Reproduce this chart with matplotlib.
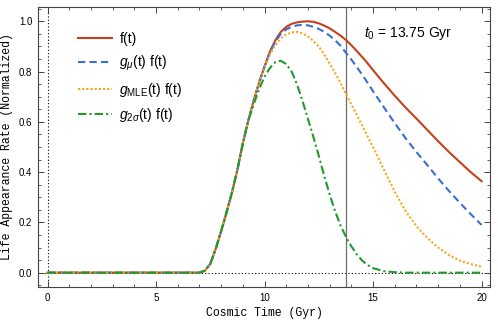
import numpy as np
import matplotlib
matplotlib.use("Agg")
import matplotlib.pyplot as plt
from matplotlib.ticker import MultipleLocator

plt.rcParams['font.family'] = ['Liberation Sans', 'DejaVu Sans']
plt.rcParams['mathtext.fontset'] = 'custom'
plt.rcParams['mathtext.rm'] = 'Liberation Sans'
plt.rcParams['mathtext.it'] = 'Liberation Sans:italic'

# cosmic time (Gyr)
t = [0, 7.0, 7.25, 7.5, 7.75, 8.0, 8.25, 8.5, 8.75, 9.0, 9.25, 9.5, 9.75,
     10.0, 10.25, 10.5, 10.75, 11.0, 11.25, 11.5, 11.75, 12.0, 12.25, 12.5,
     12.75, 13.0, 13.25, 13.5, 13.75, 14.0, 14.25, 14.5, 14.75, 15.0, 15.5,
     16.0, 16.5, 17.0, 17.5, 18.0, 18.5, 19.0, 19.5, 20.0]

f_t = [0, 0, 0.008, 0.035, 0.095, 0.165, 0.24, 0.32, 0.41, 0.515, 0.605,
       0.685, 0.757, 0.82, 0.88, 0.925, 0.958, 0.978, 0.99, 0.996, 0.999,
       1.0, 0.998, 0.992, 0.983, 0.972, 0.958, 0.943, 0.926, 0.905, 0.882,
       0.858, 0.833, 0.806, 0.754, 0.704, 0.657, 0.613, 0.568, 0.523, 0.48,
       0.44, 0.40, 0.364]

g_mu = [0, 0, 0.008, 0.035, 0.095, 0.165, 0.24, 0.32, 0.41, 0.515, 0.605,
        0.685, 0.757, 0.82, 0.878, 0.92, 0.95, 0.968, 0.978, 0.984, 0.986,
        0.984, 0.978, 0.97, 0.958, 0.943, 0.925, 0.903, 0.875, 0.848, 0.818,
        0.788, 0.755, 0.722, 0.658, 0.595, 0.535, 0.48, 0.428, 0.375, 0.325,
        0.278, 0.233, 0.19]

g_mle = [0, 0, 0.008, 0.035, 0.095, 0.165, 0.24, 0.32, 0.41, 0.515, 0.605,
         0.685, 0.757, 0.815, 0.87, 0.905, 0.932, 0.948, 0.956, 0.958, 0.952,
         0.94, 0.922, 0.9, 0.868, 0.832, 0.795, 0.755, 0.712, 0.67, 0.628,
         0.585, 0.542, 0.50, 0.41, 0.322, 0.245, 0.185, 0.138, 0.10, 0.07,
         0.048, 0.034, 0.024]

g_2sig = [0, 0, 0.008, 0.035, 0.095, 0.165, 0.24, 0.32, 0.41, 0.515, 0.605,
          0.67, 0.73, 0.78, 0.815, 0.838, 0.843, 0.83, 0.80, 0.748, 0.683,
          0.612, 0.54, 0.465, 0.385, 0.312, 0.245, 0.188, 0.143, 0.105, 0.073,
          0.048, 0.03, 0.018, 0.006, 0.002, 0.0, 0.0, 0.0, 0.0, 0.0, 0.0,
          0.0, 0.0]

t0 = 13.75

fig = plt.figure(figsize=(4.98, 3.21), dpi=100)
ax = fig.add_axes([38/498, 1-287/321, 452/498, 280/321])

ax.axvline(0, color='black', lw=0.8, ls=(0, (1, 2)), zorder=1)
ax.axhline(0, color='black', lw=0.8, ls=(0, (1, 2)), zorder=1)
ax.axvline(t0, color='#6e6e6e', lw=0.9, zorder=1)

ax.plot(t, f_t, color='#c8401a', lw=1.5, label='f(t)', zorder=3)
ax.plot(t, g_mu, color='#3a6ed6', lw=1.5, ls=(0, (3.5, 2)),
        label=r'$g_\mu$(t) f(t)', zorder=4)
ax.plot(t, g_mle, color='#ffa31a', lw=1.5, ls=(0, (1, 1)),
        label=r'$g_{\mathrm{MLE}}$(t) f(t)', zorder=5)
ax.plot(t, g_2sig, color='#1f9a2a', lw=1.5, ls=(0, (4, 1.5, 1, 1.5)),
        label=r'$g_{2\sigma}$(t) f(t)', zorder=6)

ax.text(14.6, 0.95, r'$t_0$ = 13.75 Gyr', fontsize=10, va='center')

ax.set_xlim(-0.44, 20.39)
ax.set_ylim(-0.057, 1.057)
ax.xaxis.set_major_locator(MultipleLocator(5))
ax.xaxis.set_minor_locator(MultipleLocator(1))
ax.yaxis.set_major_locator(MultipleLocator(0.2))
ax.yaxis.set_minor_locator(MultipleLocator(0.05))
ax.yaxis.set_major_formatter(plt.FuncFormatter(lambda v, p: f'{v:.1f}'))
ax.tick_params(which='both', direction='in', top=True, right=True,
               labelsize=7, color='#444444', pad=4)
ax.tick_params(which='major', length=4, width=0.7)
ax.tick_params(which='minor', length=2, width=0.6)
for s in ax.spines.values():
    s.set_color('#444444')
    s.set_linewidth(0.8)

ax.set_xlabel('Cosmic Time (Gyr)', family='Liberation Mono', fontsize=8.3,
              labelpad=3)
ax.set_ylabel('Life Appearance Rate (Normalized)', family='Liberation Mono',
              fontsize=8.3, labelpad=4)

ax.legend(loc='upper left', bbox_to_anchor=(0.06, 0.955), frameon=False,
          fontsize=10, handlelength=2.5, labelspacing=0.55,
          handletextpad=0.5)

fig.savefig('out.png', dpi=100)
